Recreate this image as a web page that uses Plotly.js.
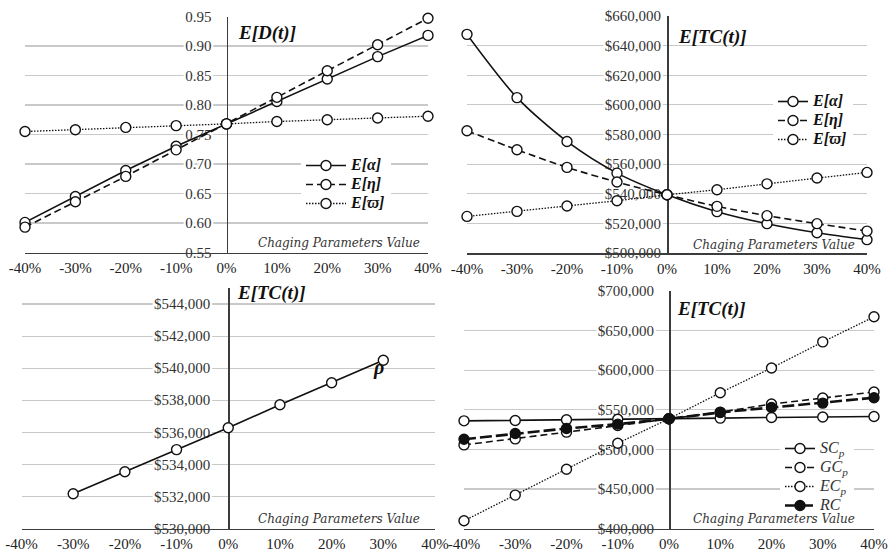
<!DOCTYPE html>
<html>
<head>
<meta charset="utf-8">
<script src="https://cdn.plot.ly/plotly-3.0.1.min.js"></script>
<style>
  html, body { margin: 0; padding: 0; background: #fff; }
  #chart { width: 888px; height: 556px; }
</style>
</head>
<body>
<div id="chart"></div>
<script>
// Percentage change applied to each parameter
const pct = [-40, -30, -20, -10, 0, 10, 20, 30, 40];
const pctLabels = ['-40%', '-30%', '-20%', '-10%', '0%', '10%', '20%', '30%', '40%'];

// Expected demand E[D(t)]
const demandAlpha = [0.601, 0.645, 0.689, 0.730, 0.768, 0.806, 0.844, 0.882, 0.918];
const demandEta   = [0.593, 0.636, 0.679, 0.724, 0.768, 0.813, 0.858, 0.902, 0.947];
const demandOmega = [0.755, 0.758, 0.762, 0.765, 0.768, 0.772, 0.775, 0.778, 0.781];
const demandTicks = [0.55, 0.60, 0.65, 0.70, 0.75, 0.80, 0.85, 0.90, 0.95];
const demandTickText = ['0.55', '0.60', '0.65', '0.70', '0.75', '0.80', '0.85', '0.90', '0.95'];

// Expected total cost E[TC(t)] vs. alpha, eta, omega
const costAlpha = [647600, 604900, 575300, 553900, 539300, 527900, 519800, 513700, 509000];
const costEta   = [582500, 569700, 557800, 547900, 539300, 531500, 525200, 519800, 514800];
const costOmega = [524700, 528100, 531700, 535300, 539300, 542700, 546700, 550600, 554400];
const costTicks = [500000, 520000, 540000, 560000, 580000, 600000, 620000, 640000, 660000];
const costTickText = ['$500,000', '$520,000', '$540,000', '$560,000', '$580,000', '$600,000', '$620,000', '$640,000', '$660,000'];

// Expected total cost vs. rho
const rhoPct  = [-30, -20, -10, 0, 10, 20, 30];
const costRho = [532170, 533540, 534920, 536280, 537720, 539090, 540490];
const rhoTicks = [530000, 532000, 534000, 536000, 538000, 540000, 542000, 544000];
const rhoTickText = ['$530,000', '$532,000', '$534,000', '$536,000', '$538,000', '$540,000', '$542,000', '$544,000'];

// Expected total cost vs. unit cost parameters
const costSC = [536000, 536500, 537300, 538000, 538600, 539400, 540300, 540800, 541500];
const costGC = [505600, 513200, 521700, 530000, 538600, 547000, 557200, 564800, 572400];
const costEC = [409700, 442200, 474800, 507700, 538600, 571500, 602800, 635700, 667400];
const costRC = [512800, 520000, 526300, 531800, 538600, 546600, 552900, 558400, 565200];
const unitTicks = [400000, 450000, 500000, 550000, 600000, 650000, 700000];
const unitTickText = ['$400,000', '$450,000', '$500,000', '$550,000', '$600,000', '$650,000', '$700,000'];

const W = 888, H = 556;
const fx = p => p / W;
const fy = p => 1 - p / H;
const SERIF = '"Liberation Serif", serif';
const NOTE_FONT = '"DejaVu Serif", serif';
const INK = '#111';
const GRID = '#c9c9c9';
const AXIS = '#3c3c3c';
// white outline around value labels so gridlines break behind them
const HALO = '2px 0 0 #fff, -2px 0 0 #fff, 0 2px 0 #fff, 0 -2px 0 #fff, 2px 2px 0 #fff, -2px -2px 0 #fff, 2px -2px 0 #fff, -2px 2px 0 #fff';

function xAxis(dom, yName) {
  return {
    domain: [fx(dom[0]), fx(dom[1])], range: [-40, 40], anchor: yName,
    showline: true, linecolor: AXIS, linewidth: 1.6,
    showgrid: false, zeroline: false, ticks: '',
    tickmode: 'array', tickvals: pct, ticktext: pctLabels,
    tickfont: { family: SERIF, size: 15, color: '#222' },
    ticklabelstandoff: 1, fixedrange: true
  };
}
// value axis drawn through the 0% position of its panel
function yAxis(dom, xdom, range, ticks, labels, standoff) {
  return {
    domain: [fy(dom[1]), fy(dom[0])], range: range,
    anchor: 'free', position: fx((xdom[0] + xdom[1]) / 2),
    showline: true, linecolor: AXIS, linewidth: 1.6,
    showgrid: true, gridcolor: GRID, gridwidth: 1.2, zeroline: false,
    ticks: '', tickmode: 'array', tickvals: ticks, ticktext: labels,
    tickfont: { family: SERIF, size: 15, color: '#333', shadow: HALO },
    ticklabelstandoff: standoff, layer: 'below traces', fixedrange: true
  };
}

const DX = [[25, 428], [467, 867], [21.5, 435], [464, 874]];
const DY = [[16.5, 252.5], [16, 253], [288, 528.5], [291, 528.5]];

function series(x, y, name, dash, xa, ya, leg, extra) {
  const t = {
    type: 'scatter', mode: 'lines+markers', x: x, y: y, name: name,
    xaxis: xa, yaxis: ya, legend: leg, cliponaxis: false,
    line: { color: INK, width: 1.6, dash: dash },
    marker: { symbol: 'circle', size: 10, color: '#fff', line: { color: INK, width: 1.4 } },
    hoverinfo: 'skip'
  };
  return Object.assign(t, extra || {});
}

// legend entries are set at 16px inside a compact 12px legend row
const sym = s => '<span style="font-size:16px"><b><i>' + s + '</i></b></span>';
const sub = (a, b) => '<span style="font-size:16px"><i>' + a + (b ? '<sub>' + b + '</sub>' : '') + '</i></span>';

const traces = [
  series(pct, demandAlpha, sym('E[α]'), 'solid', 'x', 'y', 'legend'),
  series(pct, demandEta, sym('E[η]'), '7px,4px', 'x', 'y', 'legend'),
  series(pct, demandOmega, sym('E[ϖ]'), '1.5px,1.5px', 'x', 'y', 'legend', { line: { color: INK, width: 1.3, dash: '1.5px,1.5px' } }),

  series(pct, costAlpha, sym('E[α]'), 'solid', 'x2', 'y2', 'legend2', { line: { color: INK, width: 1.6, shape: 'spline', smoothing: 0.8 } }),
  series(pct, costEta, sym('E[η]'), '7px,4px', 'x2', 'y2', 'legend2', { line: { color: INK, width: 1.6, dash: '7px,4px', shape: 'spline', smoothing: 0.8 } }),
  series(pct, costOmega, sym('E[ϖ]'), '1.5px,1.5px', 'x2', 'y2', 'legend2', { line: { color: INK, width: 1.3, dash: '1.5px,1.5px' } }),

  series(rhoPct, costRho, 'ρ', 'solid', 'x3', 'y3', 'legend', { showlegend: false }),

  series(pct, costEC, sub('EC', 'p'), '1.5px,1.5px', 'x4', 'y4', 'legend4', { legendrank: 3, line: { color: INK, width: 1.3, dash: '1.5px,1.5px' } }),
  series(pct, costSC, sub('SC', 'p'), 'solid', 'x4', 'y4', 'legend4', { legendrank: 1 }),
  series(pct, costGC, sub('GC', 'p'), '7px,4px', 'x4', 'y4', 'legend4', { legendrank: 2 }),
  series(pct, costRC, sub('RC', ''), '12px,4px', 'x4', 'y4', 'legend4', {
    legendrank: 4,
    line: { color: INK, width: 2.6, dash: '12px,4px' },
    marker: { symbol: 'circle', size: 10, color: INK, line: { color: INK, width: 1.4 } }
  })
];

function legendAt(left, top, itemw, color) {
  return {
    x: fx(left), y: fy(top), xanchor: 'left', yanchor: 'top',
    bgcolor: '#fff', borderwidth: 0, itemwidth: itemw,
    font: { family: SERIF, size: 12, color: color },
    tracegroupgap: 0, traceorder: 'normal'
  };
}

function title(text, x, y, size) {
  return {
    xref: 'paper', yref: 'paper', x: fx(x), y: fy(y), xanchor: 'left', yanchor: 'middle',
    text: text, showarrow: false, font: { family: SERIF, size: size || 19, color: INK }
  };
}
function axisNote(xr, y) {
  return {
    xref: 'paper', yref: 'paper', x: fx(xr), y: fy(y), xanchor: 'right', yanchor: 'middle',
    text: '<i>Chaging Parameters Value</i>', showarrow: false,
    font: { family: NOTE_FONT, size: 12, color: '#333' }
  };
}

const layout = {
  width: W, height: H,
  margin: { l: 0, r: 0, t: 0, b: 0 },
  paper_bgcolor: '#fff', plot_bgcolor: 'rgba(0,0,0,0)',
  font: { family: SERIF, color: INK },
  showlegend: true,
  xaxis: xAxis(DX[0], 'y'),
  yaxis: yAxis(DY[0], DX[0], [0.55, 0.95], demandTicks, demandTickText, 12),
  xaxis2: xAxis(DX[1], 'y2'),
  yaxis2: yAxis(DY[1], DX[1], [500000, 660000], costTicks, costTickText, 3),
  xaxis3: xAxis(DX[2], 'y3'),
  yaxis3: yAxis(DY[2], DX[2], [530000, 545000], rhoTicks, rhoTickText, 15),
  xaxis4: xAxis(DX[3], 'y4'),
  yaxis4: yAxis(DY[3], DX[3], [400000, 700000], unitTicks, unitTickText, 12),
  legend: legendAt(301, 151, 40, INK),
  legend2: legendAt(773, 87, 30, INK),
  legend4: legendAt(780, 434, 30, '#333'),
  annotations: [
    title('<b><i>E[D(t)]</i></b>', 236, 33),
    title('<b><i>E[TC(t)]</i></b>', 676, 37),
    title('<b><i>E[TC(t)]</i></b>', 235, 293),
    title('<b><i>E[TC(t)]</i></b>', 675, 309),
    title('<b><i>ρ</i></b>', 371, 367, 20),
    axisNote(422, 243),
    axisNote(857, 245),
    axisNote(422, 519),
    axisNote(857, 519)
  ]
};

Plotly.newPlot('chart', traces, layout, { staticPlot: true, displayModeBar: false });
</script>
</body>
</html>
